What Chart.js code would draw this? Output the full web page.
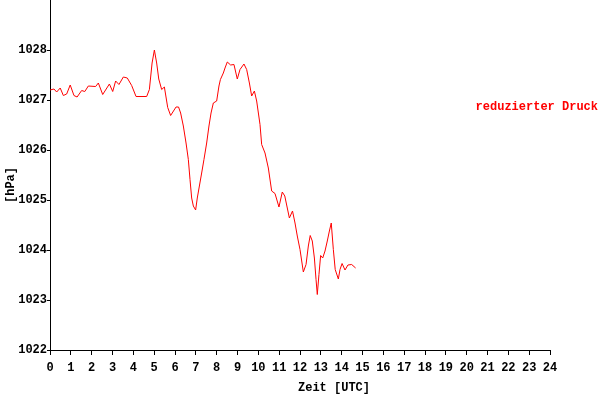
<!DOCTYPE html>
<html>
<head>
<meta charset="utf-8">
<script src="https://cdn.jsdelivr.net/npm/chart.js@4/dist/chart.umd.min.js"></script>
<style>
  body { margin: 0; background: #fff; }
</style>
</head>
<body>
<canvas id="druckChart" width="600" height="420"></canvas>
<script>
// Zeitpunkte (Stunden UTC) und reduzierter Luftdruck (hPa)
const stunden = [0.00, 0.19, 0.32, 0.49, 0.64, 0.80, 0.97, 1.15, 1.30, 1.52, 1.67, 1.84, 2.19, 2.32, 2.53, 2.85, 3.01, 3.15, 3.31, 3.52,
  3.71, 3.92, 4.13, 4.64, 4.77, 4.90, 5.01, 5.12, 5.22, 5.36, 5.49, 5.65, 5.79, 6.05, 6.17, 6.27, 6.40, 6.53, 6.64, 6.72,
  6.80, 6.88, 6.99, 7.07, 7.17, 7.28, 7.39, 7.52, 7.63, 7.73, 7.84, 8.00, 8.11, 8.18, 8.32, 8.40, 8.51, 8.67, 8.83, 8.99,
  9.12, 9.31, 9.44, 9.57, 9.68, 9.81, 9.92, 10.08, 10.16, 10.32, 10.48, 10.64, 10.80, 10.99, 11.15, 11.27, 11.39, 11.49, 11.64, 11.76,
  11.87, 12.00, 12.16, 12.29, 12.40, 12.49, 12.59, 12.69, 12.77, 12.83, 12.91, 12.99, 13.09, 13.20, 13.31, 13.41, 13.50, 13.60, 13.69, 13.84,
  13.92, 14.02, 14.16, 14.30, 14.48, 14.67];
const druck = [1027.20, 1027.22, 1027.16, 1027.24, 1027.09, 1027.12, 1027.30, 1027.09, 1027.06, 1027.19, 1027.17, 1027.28, 1027.27, 1027.34, 1027.11, 1027.32, 1027.17, 1027.38, 1027.31, 1027.46,
  1027.44, 1027.29, 1027.07, 1027.07, 1027.21, 1027.74, 1028.00, 1027.74, 1027.42, 1027.21, 1027.26, 1026.85, 1026.69, 1026.86, 1026.86, 1026.74, 1026.48, 1026.14, 1025.81, 1025.41,
  1025.04, 1024.88, 1024.80, 1025.04, 1025.28, 1025.54, 1025.81, 1026.14, 1026.48, 1026.74, 1026.94, 1026.98, 1027.28, 1027.41, 1027.54, 1027.64, 1027.76, 1027.70, 1027.71, 1027.42,
  1027.61, 1027.72, 1027.61, 1027.34, 1027.08, 1027.18, 1026.98, 1026.51, 1026.11, 1025.94, 1025.64, 1025.18, 1025.13, 1024.86, 1025.16, 1025.08, 1024.84, 1024.64, 1024.78, 1024.54,
  1024.28, 1024.01, 1023.56, 1023.71, 1024.08, 1024.29, 1024.18, 1023.84, 1023.41, 1023.11, 1023.51, 1023.89, 1023.84, 1023.98, 1024.18, 1024.38, 1024.54, 1024.01, 1023.61, 1023.42,
  1023.61, 1023.73, 1023.60, 1023.70, 1023.71, 1023.64];

const legendeText = 'reduzierter Druck';
const xTitel = 'Zeit [UTC]';
const yTitel = '[hPa]';

const schrift = { family: '"Liberation Mono", "DejaVu Sans Mono", monospace', size: 12, weight: 'bold' };
const schriftCss = 'bold 12px "Liberation Mono", "DejaVu Sans Mono", monospace';

// Beschriftungen selbst zeichnen (Legende rechts, Achsentitel)
const beschriftung = {
  id: 'beschriftung',
  afterDraw(chart) {
    const ctx = chart.ctx;
    const area = chart.chartArea;
    ctx.save();
    ctx.font = schriftCss;
    ctx.textBaseline = 'middle';

    ctx.fillStyle = '#ff0000';
    ctx.textAlign = 'right';
    ctx.fillText(legendeText, 598, 107);

    ctx.fillStyle = '#000';
    ctx.textAlign = 'center';
    ctx.fillText(xTitel, 334, area.bottom + 38);

    ctx.translate(11, 185);
    ctx.rotate(-Math.PI / 2);
    ctx.fillText(yTitel, 0, 0);
    ctx.restore();
  }
};

const ctxDruck = document.getElementById('druckChart').getContext('2d');
new Chart(ctxDruck, {
  type: 'line',
  data: {
    datasets: [{
      label: legendeText,
      data: stunden.map((h, i) => ({ x: h, y: druck[i] })),
      borderColor: '#ff0000',
      borderWidth: 1,
      pointRadius: 0,
      tension: 0,
      fill: false
    }]
  },
  options: {
    responsive: false,
    animation: false,
    devicePixelRatio: 1,
    layout: { padding: { top: 0, right: 50, bottom: 0, left: 0 } },
    plugins: {
      legend: { display: false },
      tooltip: { enabled: false }
    },
    scales: {
      x: {
        type: 'linear',
        min: 0,
        max: 24,
        afterFit(scale) { scale.height = 70; scale.paddingLeft = 0; scale.paddingRight = 0; },
        border: { color: '#000', width: 1 },
        grid: { drawOnChartArea: false, color: '#000', tickLength: 5 },
        ticks: { stepSize: 1, color: '#000', font: schrift, padding: 6, maxRotation: 0, autoSkip: false }
      },
      y: {
        min: 1022,
        max: 1029,
        afterFit(scale) { scale.width = 50; scale.paddingTop = 0; scale.paddingBottom = 0; },
        afterBuildTicks(scale) { scale.ticks = scale.ticks.filter(t => t.value < 1029); },
        border: { color: '#000', width: 1 },
        grid: { drawOnChartArea: false, color: '#000', tickLength: 3 },
        ticks: { stepSize: 1, color: '#000', font: schrift, padding: 0, callback: v => String(v) }
      }
    }
  },
  plugins: [beschriftung]
});
</script>
</body>
</html>
